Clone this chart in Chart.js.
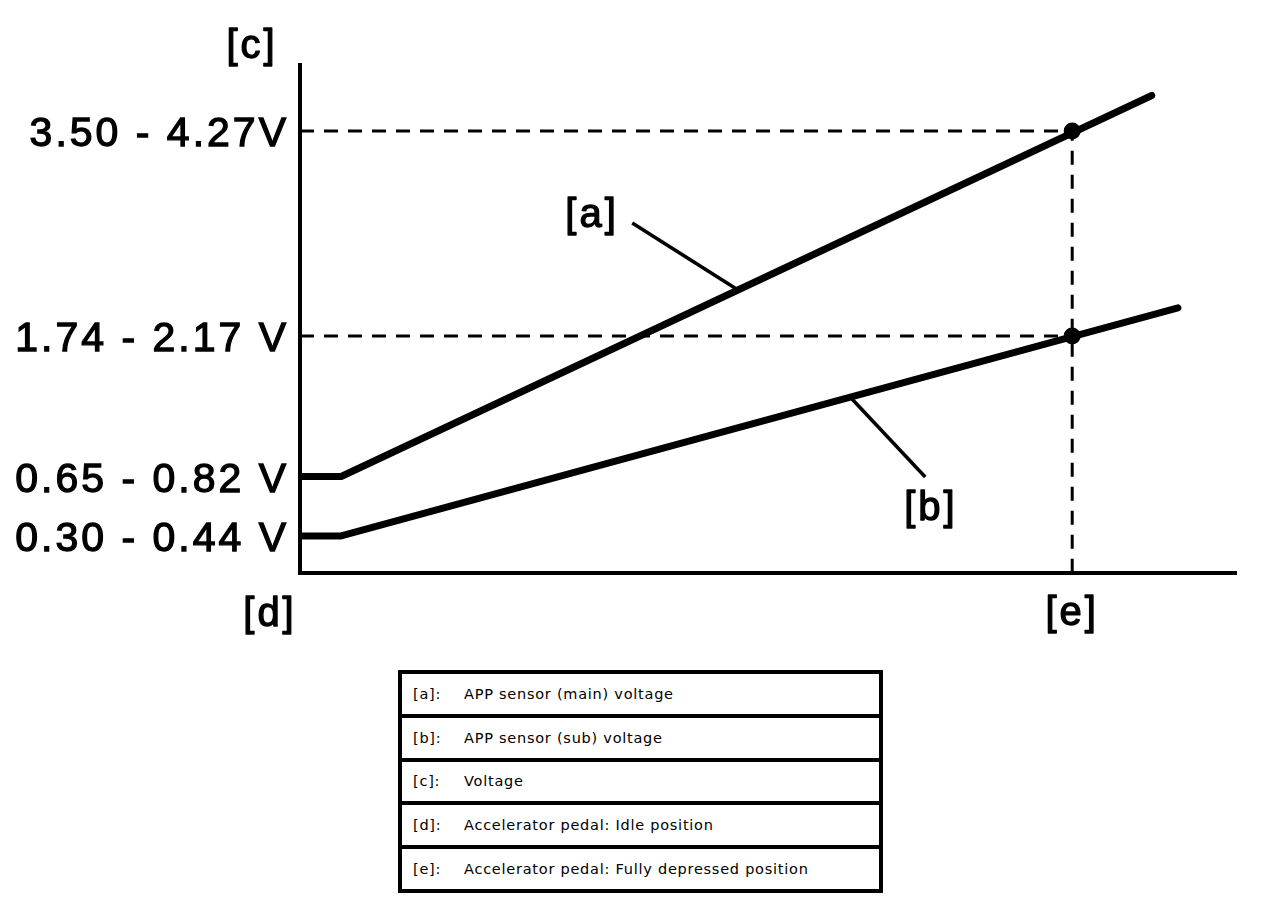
<!DOCTYPE html>
<html>
<head>
<meta charset="utf-8">
<script src="https://cdn.jsdelivr.net/npm/chart.js@4/dist/chart.umd.min.js"></script>
<style>
html,body{margin:0;padding:0;background:#fff;}
#wrap{position:absolute;left:0;top:0;width:1264px;height:660px;}
#legend{position:absolute;left:398px;top:670px;width:477px;border:4px solid #000;
  font-family:"DejaVu Sans",Verdana,sans-serif;font-size:14.5px;letter-spacing:0.75px;color:#000;}
.row{height:39.8px;display:flex;align-items:center;}
.row+.row{border-top:4px solid #000;}
.k{width:62px;padding-left:11px;box-sizing:border-box;}
</style>
</head>
<body>
<div id="wrap"><canvas id="c"></canvas></div>
<div id="legend"></div>
<script>
// ---- data ----
const yTickValues = [87.0, 46.65, 19.0, 7.3];
const yTickLabels = ['3.50 - 4.27V', '1.74 - 2.17 V', '0.65 - 0.82 V', '0.30 - 0.44 V'];
const mainX = [0, 4.4, 91.0];          // APP sensor (main) pedal positions
const mainY = [19.0, 19.0, 94.0];      // APP sensor (main) voltage level
const subX = [0, 4.4, 93.8];           // APP sensor (sub) pedal positions
const subY = [7.3, 7.3, 52.2];         // APP sensor (sub) voltage level
const fullPos = 82.5;                  // fully depressed position
const markY = [87.0, 46.65];           // voltages at full depression
const axisLabels = {y: '[c]', idle: '[d]', full: '[e]'};
const legendKeys = ['[a]:', '[b]:', '[c]:', '[d]:', '[e]:'];
const legendTexts = ['APP sensor (main) voltage', 'APP sensor (sub) voltage', 'Voltage',
  'Accelerator pedal: Idle position', 'Accelerator pedal: Fully depressed position'];

// legend table
const lg = document.getElementById('legend');
legendKeys.forEach((k, i) => {
  const r = document.createElement('div'); r.className = 'row';
  const a = document.createElement('div'); a.className = 'k'; a.textContent = k;
  const b = document.createElement('div'); b.textContent = legendTexts[i];
  r.appendChild(a); r.appendChild(b); lg.appendChild(r);
});

const zip = (xs, ys) => xs.map((x, i) => ({x, y: ys[i]}));
const FONT = '"Liberation Sans", Arial, sans-serif';

const annot = {
  id: 'annot',
  beforeDraw(chart) { chart.ctx.letterSpacing = '3px'; },
  afterDatasetsDraw(chart) {
    const {ctx, scales: {x, y}, chartArea} = chart;
    ctx.save();
    ctx.letterSpacing = '3px';
    ctx.fillStyle = '#000'; ctx.strokeStyle = '#000';
    ctx.font = '40px ' + FONT;
    ctx.textAlign = 'center'; ctx.textBaseline = 'middle';
    // leader lines
    ctx.lineWidth = 3.5; ctx.lineCap = 'butt';
    const seg = (x1, y1, x2, y2) => {
      ctx.beginPath();
      ctx.moveTo(x.getPixelForValue(x1), y.getPixelForValue(y1));
      ctx.lineTo(x.getPixelForValue(x2), y.getPixelForValue(y2));
      ctx.stroke();
    };
    seg(35.5, 68.9, 46.8, 55.7);
    seg(58.8, 34.6, 66.8, 18.9);
    ctx.lineWidth = 1.3; ctx.lineJoin = 'round';
    const txt = (s, px, py) => { ctx.fillText(s, px, py); ctx.strokeText(s, px, py); };
    txt('[a]', x.getPixelForValue(31.2), y.getPixelForValue(70.3));
    txt('[b]', x.getPixelForValue(67.4), y.getPixelForValue(12.6));
    txt(axisLabels.full, x.getPixelForValue(fullPos), chartArea.bottom + 41);
    txt(axisLabels.idle, chartArea.left - 30, chartArea.bottom + 42);
    txt(axisLabels.y, chartArea.left - 48, chartArea.top - 18);
    ctx.restore();
  }
};

new Chart(document.getElementById('c'), {
  type: 'line',
  data: {
    datasets: [
      {data: zip([fullPos, fullPos], markY), showLine: false, pointRadius: 8.5,
       pointBackgroundColor: '#000', pointBorderWidth: 0, order: 0},
      {data: zip(mainX, mainY), borderColor: '#000', borderWidth: 7, pointRadius: 0,
       borderCapStyle: 'round', borderJoinStyle: 'round', order: 1},
      {data: zip(subX, subY), borderColor: '#000', borderWidth: 7, pointRadius: 0,
       borderCapStyle: 'round', borderJoinStyle: 'round', order: 2},
      {data: [{x: 0, y: markY[0]}, {x: fullPos, y: markY[0]}, {x: fullPos, y: 0}],
       borderColor: '#000', borderWidth: 3, borderDash: [14, 10], pointRadius: 0, order: 3},
      {data: [{x: 0, y: markY[1]}, {x: fullPos, y: markY[1]}],
       borderColor: '#000', borderWidth: 3, borderDash: [14, 10], pointRadius: 0, order: 4}
    ]
  },
  options: {
    responsive: true, maintainAspectRatio: false, animation: false, devicePixelRatio: 1,
    layout: {padding: {left: 0, top: 65, right: 28, bottom: 0}},
    plugins: {legend: {display: false}, tooltip: {enabled: false}},
    elements: {line: {tension: 0}},
    scales: {
      x: {type: 'linear', min: 0, max: 100,
          grid: {display: false, drawTicks: false},
          border: {display: true, color: '#000', width: 4},
          ticks: {display: false},
          afterFit: s => { s.height = 87; }},
      y: {type: 'linear', min: 0, max: 100,
          grid: {display: false, drawTicks: false},
          border: {display: true, color: '#000', width: 4},
          afterBuildTicks: s => { s.ticks = yTickValues.map(v => ({value: v})); },
          afterFit: s => { s.width = 300; },
          ticks: {autoSkip: false, padding: 11, color: '#000', labelOffset: 4,
                  textStrokeColor: '#000', textStrokeWidth: 1.3,
                  font: {family: FONT, size: 41},
                  callback: (v, i) => yTickLabels[i]}}
    }
  },
  plugins: [annot]
});
</script>
</body>
</html>
